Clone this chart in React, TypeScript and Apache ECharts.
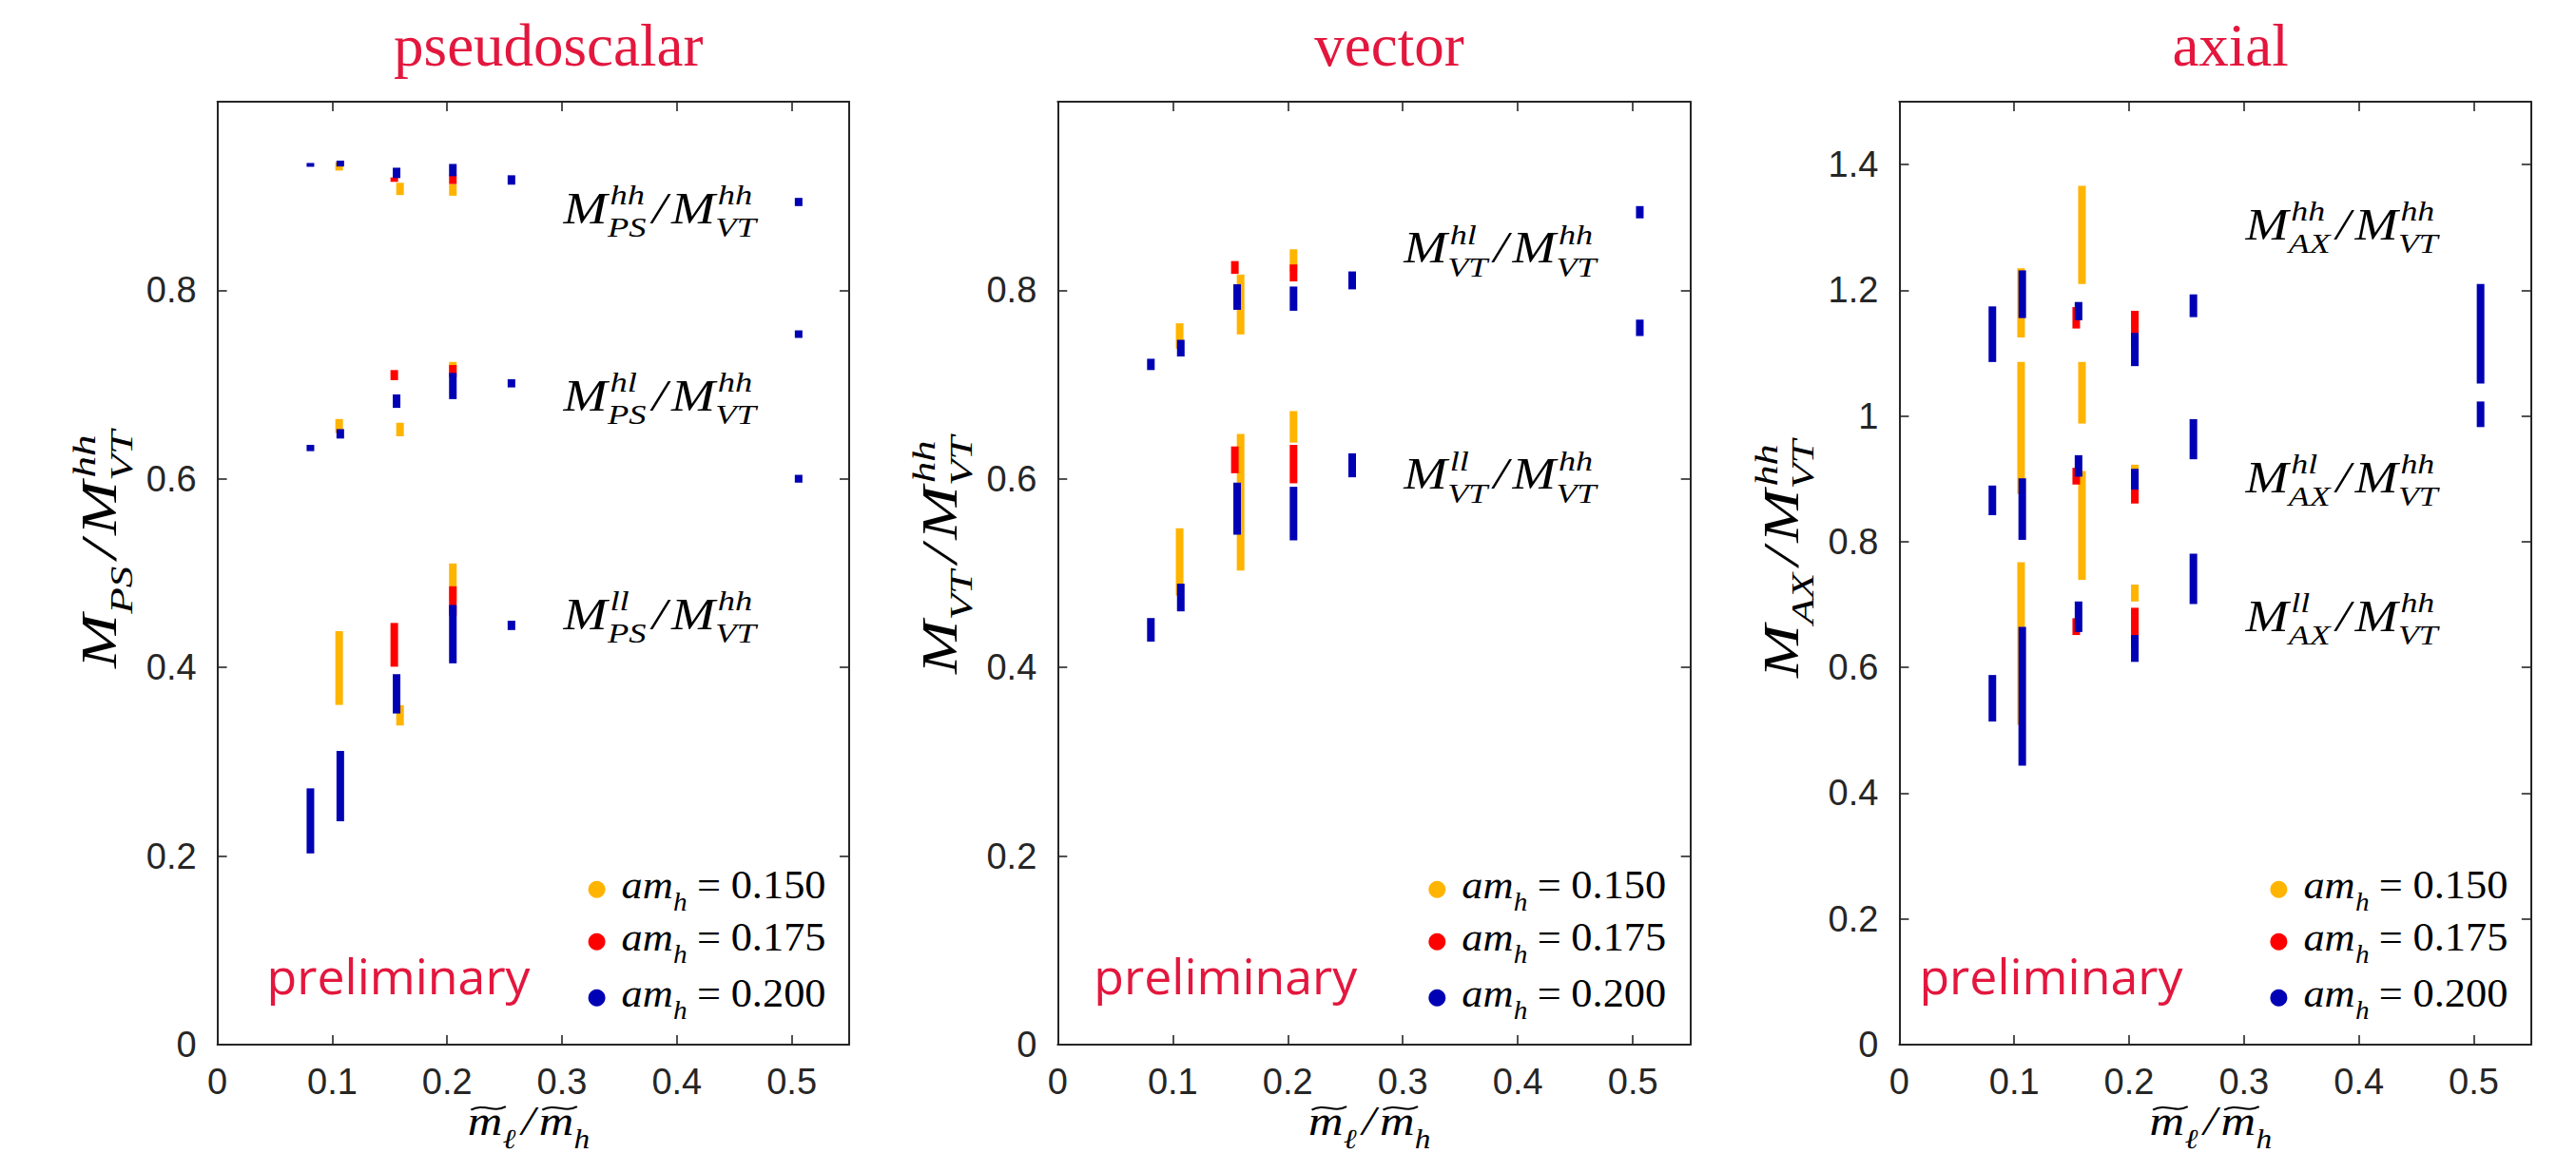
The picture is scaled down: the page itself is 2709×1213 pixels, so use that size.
import React, { useEffect, useRef } from "react";
import * as echarts from "echarts";

// ---------------- data ----------------
const xTicks = [0, 0.1, 0.2, 0.3, 0.4, 0.5];
const yTicksPS = [0, 0.2, 0.4, 0.6, 0.8];
const yTicksVT = [0, 0.2, 0.4, 0.6, 0.8];
const yTicksAX = [0, 0.2, 0.4, 0.6, 0.8, 1, 1.2, 1.4];
const titles = ["pseudoscalar", "vector", "axial"];
const amhValues = ["0.150", "0.175", "0.200"];
const yNameSubs = ["PS", "VT", "AX"];
const groupSups = [["hh", "hl", "ll"], ["hl", "ll"], ["hh", "hl", "ll"]];

// [x, lower, upper]
const psOrange = [
  [0.106, 0.927, 0.936], [0.159, 0.901, 0.914], [0.205, 0.9003, 0.9127],
  [0.106, 0.6485, 0.6635], [0.159, 0.6452, 0.6595], [0.205, 0.712, 0.724],
  [0.106, 0.3603, 0.4385], [0.159, 0.3385, 0.36], [0.205, 0.47, 0.5103],
];
const psRed = [
  [0.154, 0.915, 0.9197], [0.205, 0.9127, 0.922],
  [0.154, 0.7047, 0.7154], [0.205, 0.708, 0.7207],
  [0.154, 0.4008, 0.4472], [0.205, 0.455, 0.4861],
];
const psBlue = [
  [0.081, 0.931, 0.935], [0.107, 0.9313, 0.9375], [0.156, 0.919, 0.93],
  [0.205, 0.921, 0.934], [0.256, 0.912, 0.922], [0.506, 0.8893, 0.898],
  [0.081, 0.6294, 0.6361], [0.107, 0.6428, 0.6528], [0.156, 0.6753, 0.6896],
  [0.205, 0.6846, 0.7124], [0.256, 0.697, 0.7057], [0.506, 0.7495, 0.7575],
  [0.081, 0.2028, 0.2718], [0.107, 0.2369, 0.3115], [0.156, 0.3512, 0.3929],
  [0.205, 0.4044, 0.4663], [0.256, 0.4397, 0.4496], [0.506, 0.596, 0.6043],
];

const vtOrange = [
  [0.106, 0.738, 0.765], [0.159, 0.7532, 0.8167], [0.205, 0.82, 0.8435],
  [0.106, 0.4762, 0.5476], [0.159, 0.5028, 0.6478], [0.205, 0.6385, 0.6719],
];
const vtRed = [
  [0.154, 0.8174, 0.831], [0.205, 0.8094, 0.8274],
  [0.154, 0.606, 0.6344], [0.205, 0.5953, 0.6361],
];
const vtBlue = [
  [0.081, 0.7154, 0.7274], [0.107, 0.7298, 0.7475], [0.156, 0.7793, 0.8064],
  [0.205, 0.7783, 0.804], [0.256, 0.801, 0.82], [0.506, 0.8763, 0.8893],
  [0.081, 0.4274, 0.4524], [0.107, 0.4595, 0.4889], [0.156, 0.5408, 0.596],
  [0.205, 0.5348, 0.5916], [0.256, 0.6017, 0.6271], [0.506, 0.7515, 0.7689],
];

const axOrange = [
  [0.106, 1.125, 1.235], [0.159, 1.21, 1.366],
  [0.106, 0.876, 1.086], [0.159, 0.988, 1.086], [0.205, 0.905, 0.9226],
  [0.106, 0.509, 0.7674], [0.159, 0.7395, 0.9126], [0.205, 0.705, 0.7318],
];
const axRed = [
  [0.154, 1.1392, 1.1734], [0.205, 1.107, 1.1673],
  [0.154, 0.891, 0.9176], [0.205, 0.8608, 0.9146],
  [0.154, 0.6516, 0.6783], [0.205, 0.632, 0.695],
];
const axBlue = [
  [0.081, 1.0859, 1.1744], [0.107, 1.1558, 1.2317], [0.156, 1.1523, 1.1814],
  [0.205, 1.0794, 1.1322], [0.256, 1.1573, 1.1935], [0.506, 1.0518, 1.21],
  [0.081, 0.8422, 0.8894], [0.107, 0.803, 0.9009], [0.156, 0.9035, 0.9377],
  [0.205, 0.883, 0.916], [0.256, 0.9312, 0.995], [0.506, 0.9824, 1.0231],
  [0.081, 0.514, 0.588], [0.107, 0.4439, 0.6647], [0.156, 0.6564, 0.705],
  [0.205, 0.6089, 0.6516], [0.256, 0.7009, 0.781],
];

// ---------------- layout / style ----------------
const W = 2709;
const H = 1213;
const PL = [228.6, 1112.3, 1997.4];
const PW = [664.4, 665.4, 664.4];
const TOP = 107;
const PH = 992;
const YMAX = [1, 1, 1.5];
const COLORS = ["#FFB400", "#FF0000", "#0000B4"];
const AX = "#262626";
const CRIMSON = "#E3173E";
const SERIF = '"Liberation Serif", "DejaVu Serif", serif';
const SANS = '"Liberation Sans", Arial, sans-serif';
const PRELIM_FONT = '"Open Sans", "Noto Sans", sans-serif';

const groupBase = [[235, 432, 662], [276.5, 514.4], [252, 518, 664]];
const yNameCenter = [577, 583, 587];
const titleCenterShift = 16;
const prelimX = [52, 38, 21];

let mctx: CanvasRenderingContext2D | null = null;
function tw(text: string, size: number, italic: boolean, family: string) {
  if (!mctx) {
    const c = document.createElement("canvas");
    mctx = c.getContext("2d");
  }
  if (!mctx) return text.length * size * 0.5;
  mctx.font = `${italic ? "italic " : ""}${size}px ${family}`;
  return mctx.measureText(text).width;
}

function T(text: string, x: number, base: number, size: number, italic: boolean, color: string, family = SERIF) {
  return {
    type: "text",
    x,
    y: base - 0.34 * size,
    silent: true,
    style: {
      text,
      fill: color,
      fontSize: size,
      fontFamily: family,
      fontStyle: italic ? "italic" : "normal",
      align: "left",
      verticalAlign: "middle",
      textAlign: "left",
      textVerticalAlign: "middle",
    },
  };
}

type Tok = { t: string; it?: boolean; sub?: string; sup?: string; adv?: number; pre?: number; tilde?: boolean };

function buildMath(toks: Tok[], fs: number, color: string) {
  const ch: any[] = [];
  let cx = 0;
  const ss = fs * 0.66;
  for (const k of toks) {
    const it = k.it !== false;
    cx += (k.pre || 0) * fs;
    const w = tw(k.t, fs, it, SERIF);
    const advMain = k.adv != null ? k.adv * fs : w;
    const xoff = k.adv != null ? (advMain - w) / 2 : 0;
    ch.push(T(k.t, cx + xoff, 0, fs, it, color));
    if (k.tilde) {
      const x0 = cx + 0.07 * fs;
      const x1 = cx + w + 0.07 * fs;
      const ty = -0.64 * fs;
      const a = 0.08 * fs;
      ch.push({
        type: "bezierCurve",
        silent: true,
        shape: {
          x1: x0, y1: ty + a * 0.5,
          cpx1: x0 + (x1 - x0) * 0.38, cpy1: ty - a * 1.6,
          cpx2: x0 + (x1 - x0) * 0.62, cpy2: ty + a * 1.6,
          x2: x1, y2: ty - a * 0.5,
        },
        style: { stroke: color, lineWidth: 2, fill: null },
      });
    }
    let extra = 0;
    if (k.sup) {
      const sw = tw(k.sup, ss, true, SERIF);
      ch.push(T(k.sup, cx + w + 0.05 * fs, -0.43 * fs, ss, true, color));
      extra = Math.max(extra, sw + 0.05 * fs);
    }
    if (k.sub) {
      const sw = tw(k.sub, ss, true, SERIF);
      ch.push(T(k.sub, cx + w + 0.005 * fs, 0.31 * fs, ss, true, color));
      extra = Math.max(extra, sw + 0.005 * fs);
    }
    cx += advMain + extra + (k.sub || k.sup ? 0.03 * fs : 0);
  }
  return { ch, width: cx };
}

function mathGroup(toks: Tok[], fs: number, color: string, x: number, y: number, center: boolean, rotation = 0, targetWidth = 0) {
  const m = buildMath(toks, fs, color);
  const sx = targetWidth > 0 ? targetWidth / m.width : 1;
  return {
    type: "group",
    x,
    y,
    rotation,
    silent: true,
    children: [{ type: "group", x: center ? (-m.width * sx) / 2 : 0, y: 0, scaleX: sx, scaleY: 1, children: m.ch }],
  };
}

function barSeries(data: number[][], color: string, idx: number) {
  return {
    type: "custom",
    xAxisIndex: idx * 2,
    yAxisIndex: idx * 2,
    data,
    encode: { x: 0, y: [1, 2] },
    silent: true,
    renderItem: (_p: any, api: any) => {
      const x = api.value(0);
      const lo = api.value(1);
      const hi = api.value(2);
      const a = api.coord([x, hi]);
      const b = api.coord([x, lo]);
      let top = a[1];
      let h = b[1] - a[1];
      if (h < 4) {
        top = (a[1] + b[1]) / 2 - 2;
        h = 4;
      }
      return {
        type: "rect",
        shape: { x: a[0] - 4, y: top, width: 8, height: h },
        style: { fill: color },
      };
    },
  };
}

function buildOption() {
  const panelData = [
    [psOrange, psRed, psBlue],
    [vtOrange, vtRed, vtBlue],
    [axOrange, axRed, axBlue],
  ];
  const yTicks = [yTicksPS, yTicksVT, yTicksAX];

  const grid: any[] = [];
  const xAxis: any[] = [];
  const yAxis: any[] = [];
  const series: any[] = [];
  const graphic: any[] = [];

  const line = { show: true, onZero: false, lineStyle: { color: AX, width: 2 } };
  const tick = (vals: number[]) => ({ show: true, inside: true, length: 10, lineStyle: { color: AX, width: 1.6 }, customValues: vals });

  const prelimBase = 52;
  const prelimFs = (prelimBase * 277) / tw("preliminary", prelimBase, false, PRELIM_FONT);

  for (let i = 0; i < 3; i++) {
    const L = PL[i];
    grid.push({ left: L, top: TOP, width: PW[i], height: PH, containLabel: false });
    xAxis.push({
      gridIndex: i, type: "value", min: 0, max: 0.55, position: "bottom",
      axisLine: line, axisTick: tick(xTicks), splitLine: { show: false },
      axisLabel: { show: true, customValues: xTicks, margin: 20, fontSize: 38, fontFamily: SANS, color: AX },
    });
    xAxis.push({
      gridIndex: i, type: "value", min: 0, max: 0.55, position: "top",
      axisLine: line, axisTick: tick(xTicks), splitLine: { show: false }, axisLabel: { show: false },
    });
    yAxis.push({
      gridIndex: i, type: "value", min: 0, max: YMAX[i], position: "left",
      axisLine: line, axisTick: tick(yTicks[i]), splitLine: { show: false },
      axisLabel: { show: true, customValues: yTicks[i], margin: 22, fontSize: 38, fontFamily: SANS, color: AX },
    });
    yAxis.push({
      gridIndex: i, type: "value", min: 0, max: YMAX[i], position: "right",
      axisLine: line, axisTick: tick(yTicks[i]), splitLine: { show: false }, axisLabel: { show: false },
    });
    panelData[i].forEach((d, c) => series.push(barSeries(d, COLORS[c], i)));

    // title
    graphic.push({
      type: "text", silent: true,
      x: L + PW[i] / 2 + titleCenterShift, y: 69 - 0.34 * 63,
      style: {
        text: titles[i], fill: CRIMSON, fontSize: 63, fontFamily: SERIF,
        align: "center", verticalAlign: "middle", textAlign: "center", textVerticalAlign: "middle",
      },
    });

    // group labels inside plot
    groupSups[i].forEach((sup, g) => {
      graphic.push(mathGroup(
        [{ t: "M", sup, sub: yNameSubs[i] }, { t: "/", adv: 0.45 }, { t: "M", sup: "hh", sub: "VT" }],
        46, "#000", L + 364, groupBase[i][g], false, 0, 204));
    });

    // y axis name (rotated)
    graphic.push(mathGroup(
      [{ t: "M", sub: yNameSubs[i] }, { t: "/", adv: 0.45 }, { t: "M", sup: "hh", sub: "VT" }],
      52, "#000", L - 106, yNameCenter[i], true, Math.PI / 2, 252));

    // x axis name
    graphic.push(mathGroup(
      [{ t: "m", sub: "\u2113", tilde: true }, { t: "/", adv: 0.45 }, { t: "m", sub: "h", tilde: true }],
      44, "#000", L + PW[i] / 2 - 4, 1194, true, 0, 130));

    // legend
    const ly = [935.7, 990.8, 1049.8];
    amhValues.forEach((v, c) => {
      graphic.push({
        type: "circle", silent: true,
        shape: { cx: L + 399, cy: ly[c], r: 9 },
        style: { fill: COLORS[c] },
      });
      graphic.push(mathGroup(
        [{ t: "am", sub: "h" }, { t: "=", it: false, pre: 0.2 }, { t: v, it: false, pre: 0.24 }],
        42, "#000", L + 425, ly[c] + 9, false, 0, 215));
    });

    // preliminary
    graphic.push({
      type: "text", silent: true,
      x: L + prelimX[i], y: 1045 - 0.36 * prelimFs,
      style: {
        text: "preliminary", fill: CRIMSON, fontSize: prelimFs, fontFamily: PRELIM_FONT,
        align: "left", verticalAlign: "middle", textAlign: "left", textVerticalAlign: "middle",
      },
    });
  }

  return {
    animation: false,
    backgroundColor: "#ffffff",
    grid, xAxis, yAxis, series, graphic,
  };
}

export default function App() {
  const ref = useRef<HTMLDivElement>(null);
  useEffect(() => {
    if (!ref.current) return;
    const chart = echarts.init(ref.current, undefined, { renderer: "svg", width: W, height: H });
    chart.setOption(buildOption() as any);
    return () => chart.dispose();
  }, []);
  return (
    <div
      ref={ref}
      style={{ position: "fixed", left: 0, top: 0, width: W, height: H, background: "#fff" }}
    />
  );
}
